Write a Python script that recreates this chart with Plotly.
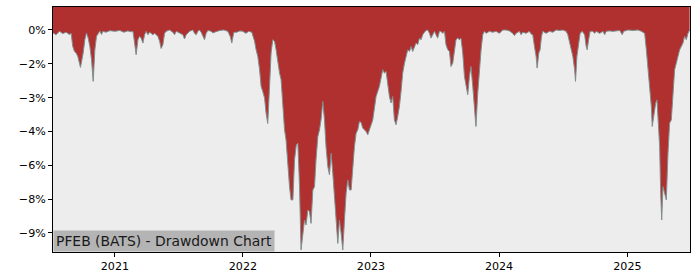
import pandas as pd
import plotly.graph_objects as go

# decimal-year time stamps and drawdown values (%)
years = [
    2020.518, 2020.542, 2020.568, 2020.594, 2020.620, 2020.646, 2020.659, 2020.672, 2020.685, 2020.698,
    2020.711, 2020.724, 2020.732, 2020.753, 2020.766, 2020.779, 2020.792, 2020.805, 2020.818, 2020.831,
    2020.844, 2020.857, 2020.870, 2020.883, 2020.896, 2020.906, 2020.930, 2020.961, 2021.000, 2021.039,
    2021.070, 2021.101, 2021.125,
    2021.141, 2021.154, 2021.166, 2021.180, 2021.193, 2021.205, 2021.219, 2021.232, 2021.244, 2021.258,
    2021.271, 2021.283, 2021.297, 2021.310, 2021.336, 2021.349, 2021.361, 2021.375, 2021.388, 2021.400,
    2021.427, 2021.453, 2021.466, 2021.479, 2021.505, 2021.531, 2021.544, 2021.557, 2021.583, 2021.609,
    2021.622, 2021.635, 2021.648, 2021.661, 2021.674, 2021.687, 2021.700, 2021.713, 2021.726, 2021.752,
    2021.765, 2021.788, 2021.820, 2021.851, 2021.882, 2021.902, 2021.913, 2021.929, 2021.952, 2021.976,
    2021.999, 2022.023, 2022.046, 2022.069, 2022.091, 2022.103, 2022.116, 2022.130, 2022.142, 2022.155,
    2022.169, 2022.181, 2022.194, 2022.208, 2022.220, 2022.233, 2022.247, 2022.259, 2022.272, 2022.286,
    2022.298, 2022.311, 2022.325, 2022.337, 2022.350, 2022.364, 2022.376,
    2022.390, 2022.403, 2022.417, 2022.429, 2022.442, 2022.454, 2022.468, 2022.481, 2022.493, 2022.507,
    2022.520, 2022.532, 2022.546, 2022.559, 2022.571, 2022.585, 2022.598, 2022.610, 2022.624, 2022.637,
    2022.649, 2022.663, 2022.676, 2022.689, 2022.702, 2022.715, 2022.728, 2022.741, 2022.754, 2022.767,
    2022.780, 2022.793, 2022.806, 2022.819, 2022.832, 2022.845, 2022.858, 2022.871, 2022.884, 2022.897,
    2022.910, 2022.923, 2022.936, 2022.949, 2022.962, 2022.975, 2022.988, 2023.001,
    2023.014, 2023.040, 2023.066, 2023.092, 2023.105, 2023.118, 2023.131, 2023.144, 2023.157, 2023.170,
    2023.183, 2023.196, 2023.209, 2023.222, 2023.235, 2023.248, 2023.262, 2023.274, 2023.287, 2023.301,
    2023.313, 2023.326, 2023.340, 2023.352, 2023.365, 2023.379, 2023.391, 2023.404, 2023.418, 2023.430,
    2023.443, 2023.457, 2023.469, 2023.482, 2023.496, 2023.508, 2023.521, 2023.535, 2023.547, 2023.560,
    2023.574, 2023.586, 2023.600, 2023.613, 2023.625,
    2023.639, 2023.652, 2023.664, 2023.678, 2023.691, 2023.703, 2023.717, 2023.730, 2023.742, 2023.756,
    2023.769, 2023.781, 2023.795, 2023.808, 2023.820, 2023.834, 2023.847, 2023.860, 2023.873, 2023.886,
    2023.899, 2023.925, 2023.951, 2023.977, 2024.003, 2024.029, 2024.055, 2024.081, 2024.107, 2024.120,
    2024.133, 2024.159, 2024.172, 2024.185, 2024.211, 2024.237, 2024.250,
    2024.263, 2024.276, 2024.289, 2024.297, 2024.310, 2024.320, 2024.331, 2024.341, 2024.367, 2024.393,
    2024.419, 2024.445, 2024.471, 2024.497, 2024.523, 2024.536, 2024.550, 2024.562, 2024.575, 2024.589,
    2024.596, 2024.607, 2024.620, 2024.632, 2024.648, 2024.667, 2024.679, 2024.687, 2024.698, 2024.710,
    2024.731, 2024.745, 2024.757, 2024.784, 2024.810, 2024.823, 2024.835, 2024.862, 2024.882,
    2024.888, 2024.940, 2024.960, 2024.971, 2025.005, 2025.044, 2025.083, 2025.109, 2025.135, 2025.148,
    2025.161, 2025.174, 2025.187, 2025.194, 2025.205, 2025.221, 2025.231, 2025.239, 2025.252, 2025.260,
    2025.268, 2025.278, 2025.291, 2025.304, 2025.317, 2025.330, 2025.343, 2025.356, 2025.369, 2025.382,
    2025.395, 2025.408, 2025.434, 2025.447, 2025.460, 2025.473, 2025.486,
]

drawdown = [
    -0.13, -0.21, -0.06, -0.16, -0.10, -0.20, -0.15, -0.73, -0.95, -1.02,
    -1.17, -1.54, -1.66, -1.02, -0.43, -0.13, -0.36, -0.73, -1.32, -2.28,
    -0.88, -0.28, -0.15, -0.04, -0.20, -0.06, -0.10, -0.03, -0.06, -0.02,
    -0.10, -0.04, -0.08,
    -0.06, -0.58, -1.10, -0.43, -0.28, -0.36, -0.58, -0.21, -0.06, -0.21,
    -0.10, -0.15, -0.21, -0.15, -0.28, -0.50, -0.82, -0.65, -0.15, -0.06,
    0.00, -0.10, -0.21, -0.06, -0.15, -0.21, -0.40, -0.21, -0.06, 0.00,
    -0.15, -0.21, -0.06, 0.00, -0.10, -0.28, -0.43, -0.15, -0.02, -0.06,
    -0.13, -0.08, -0.02, 0.00, -0.06, -0.30, -0.58, -0.10, -0.10, -0.04,
    -0.06, -0.15, -0.06, -0.10, -0.50, -0.88, -1.17, -1.76, -2.50, -2.73,
    -3.02, -3.70, -4.15, -2.50, -1.02, -0.43, -0.50, -0.88, -1.47, -1.91,
    -2.20, -3.24, -4.43, -4.88, -6.06, -6.95, -7.54,
    -7.54, -5.76, -5.10, -5.02, -6.95, -9.76, -9.00, -8.43, -8.65, -7.99,
    -8.06, -8.58, -7.10, -6.95, -5.76, -4.73, -4.43, -3.99, -3.17, -3.99,
    -5.17, -6.06, -6.43, -5.47, -6.36, -7.24, -8.43, -9.47, -8.43, -9.02,
    -9.76, -8.43, -7.24, -6.65, -7.10, -7.10, -5.91, -5.17, -4.58, -4.43,
    -4.06, -4.10, -4.36, -4.43, -4.50, -4.65, -4.43, -4.13,
    -3.99, -2.95, -2.50, -1.76, -1.91, -1.84, -2.50, -2.95, -3.24, -2.95,
    -3.99, -4.20, -3.84, -3.40, -2.73, -1.91, -1.47, -1.17, -0.88, -0.95,
    -0.73, -0.95, -0.73, -0.58, -0.65, -0.36, -0.43, -0.21, -0.10, -0.02,
    0.00, -0.15, -0.36, -0.21, -0.06, -0.21, -0.36, -0.06, -0.06, -0.15,
    -0.06, -0.65, -0.88, -0.95, -1.62,
    -1.47, -0.80, -0.43, -0.36, -0.43, -0.36, -1.02, -2.06, -2.50, -2.87,
    -2.06, -1.62, -2.50, -3.40, -4.28, -2.80, -1.62, -0.88, -0.21, -0.06,
    -0.15, -0.06, -0.10, -0.06, -0.15, 0.00, 0.00, -0.04, -0.15, -0.25,
    -0.15, -0.06, -0.21, -0.10, -0.15, -0.06, -0.18,
    -0.21, -0.73, -1.17, -1.69, -1.02, -0.88, -0.28, -0.06, -0.15, -0.06,
    -0.10, 0.00, -0.02, 0.00, -0.06, -0.21, -0.58, -0.95, -1.17, -1.76,
    -2.28, -1.17, -0.58, -0.15, -0.06, -0.21, -0.73, -0.88, -0.43, -0.06,
    -0.06, -0.15, -0.06, -0.15, -0.06, -0.21, -0.06, -0.04, -0.06,
    -0.06, -0.02, -0.21, -0.06, 0.00, -0.02, 0.00, -0.06, -0.15, -0.88,
    -1.76, -2.50, -3.40, -4.28, -3.84, -3.24, -3.10, -3.99, -5.17, -7.24,
    -8.43, -6.95, -7.24, -7.54, -5.47, -4.13, -3.99, -2.80, -1.76, -1.47,
    -1.17, -0.88, -0.58, -0.28, -0.43, -0.15, 0.00,
]

y_tick_vals = [0, -1.5, -3, -4.5, -6, -7.5, -9]
y_tick_text = ["0%", "\u22122%", "\u22123%", "\u22124%", "\u22126%", "\u22128%", "\u22129%"]
x_tick_years = [2021, 2022, 2023, 2024, 2025]
title_text = "PFEB (BATS) - Drawdown Chart"

Y_RANGE = [-9.85, 1.02]
X_RANGE_YEARS = [2020.518, 2025.489]


def to_date(y):
    yr = int(y)
    start = pd.Timestamp(year=yr, month=1, day=1)
    end = pd.Timestamp(year=yr + 1, month=1, day=1)
    return start + (end - start) * (y - yr)


dates = [to_date(v) for v in years]
x_range = [to_date(v) for v in X_RANGE_YEARS]
x_ticks = [pd.Timestamp(year=y, month=1, day=1) for y in x_tick_years]

FONT = "DejaVu Sans"

fig = go.Figure()
fig.add_trace(go.Scatter(
    x=dates, y=[Y_RANGE[1]] * len(dates), mode="lines",
    line=dict(width=0, color="rgba(0,0,0,0)"), hoverinfo="skip", showlegend=False,
))
fig.add_trace(go.Scatter(
    x=dates, y=drawdown, mode="lines", fill="tonexty",
    fillcolor="#b02f2f", line=dict(color="#7f8f8f", width=1),
    showlegend=False,
))

fig.update_layout(
    width=700, height=280,
    margin=dict(l=53, r=10, t=7, b=28),
    paper_bgcolor="white", plot_bgcolor="#ededed",
    font=dict(family=FONT, size=11.1, color="#000000"),
    showlegend=False,
)
fig.update_xaxes(
    range=x_range, tickvals=x_ticks, ticktext=[str(y) for y in x_tick_years],
    showgrid=False, zeroline=False, showline=True, linecolor="black", linewidth=1, mirror=True,
    ticks="outside", ticklen=4, tickcolor="black", tickfont=dict(size=11.1, family=FONT),
)
fig.update_yaxes(
    range=Y_RANGE, tickvals=y_tick_vals, ticktext=y_tick_text,
    showgrid=False, zeroline=False, showline=True, linecolor="black", linewidth=1, mirror=True,
    ticks="outside", ticklen=4, tickcolor="black", tickfont=dict(size=11.1, family=FONT),
)
fig.add_annotation(
    text=title_text, xref="paper", yref="paper", x=0, y=0,
    xanchor="left", yanchor="bottom", showarrow=False,
    font=dict(family=FONT, size=13.9, color="#1a1a1a"),
    bgcolor="#b4b4b4", borderpad=2,
)

fig.write_html("out.html")
